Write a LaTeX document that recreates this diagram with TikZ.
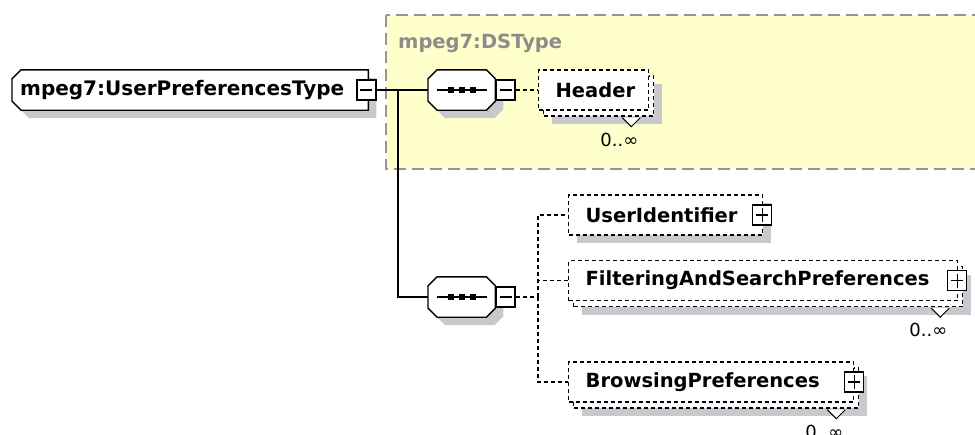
\documentclass[tikz,border=0pt]{standalone}
\usepackage{fontspec}
\setmainfont{DejaVu Sans}
\usetikzlibrary{shadows,calc,backgrounds}

\definecolor{grpfill}{RGB}{255,255,204}
\definecolor{grpline}{RGB}{150,150,150}
\definecolor{grptext}{RGB}{140,140,140}
\definecolor{shgray}{RGB}{200,200,206}

\tikzset{
  namefont/.style={font=\fontsize{19.5pt}{22pt}\selectfont\bfseries},
  conn/.style={line width=1.4pt},
  optconn/.style={line width=1.3pt, dash pattern=on 4pt off 3pt},
  grpbox/.style={fill=grpfill, draw=grpline, line width=1.3pt, dash pattern=on 12pt off 6pt},
  grplabel/.style={namefont, text=grptext, inner sep=0pt},
  typebox/.style={font=\fontsize{20pt}{22pt}\selectfont\bfseries, anchor=west, minimum width=356pt, minimum height=40pt,
    inner xsep=8pt, inner ysep=0pt, text width=340pt, align=left},
  seqbox/.style={anchor=west, minimum width=67pt, minimum height=40pt, inner sep=0pt},
  outline/.style={fill=white, draw, line width=1.4pt},
  shade8/.style={fill=shgray, transform canvas={xshift=8pt, yshift=-8pt}},
  minusbox/.style={draw, line width=1.3pt, fill=white, minimum width=19pt, minimum height=20pt, inner sep=0pt,
    path picture={
      \draw[line width=1.3pt] ([xshift=-6pt]path picture bounding box.center) -- ([xshift=6pt]path picture bounding box.center);
    }},
  plusbox/.style={draw, line width=1.3pt, fill=white, minimum width=19pt, minimum height=20pt, inner sep=0pt,
    path picture={
      \draw[line width=1.3pt] ([xshift=-6pt]path picture bounding box.center) -- ([xshift=6pt]path picture bounding box.center);
      \draw[line width=1.3pt] ([yshift=-7pt]path picture bounding box.center) -- ([yshift=7pt]path picture bounding box.center);
    }},
  elembase/.style={draw, line width=1.3pt, dash pattern=on 4pt off 3pt, fill=white, anchor=west,
    minimum height=40pt, inner xsep=17pt, inner ysep=0pt, align=left, namefont},
  onebox/.style={elembase,
    drop shadow={shadow xshift=8pt, shadow yshift=-8pt, fill=shgray, opacity=1, draw=none}},
  repbox/.style={elembase,
    drop shadow={shadow xshift=13pt, shadow yshift=-14pt, fill=shgray, opacity=1, draw=none},
    copy shadow={shadow xshift=5pt, shadow yshift=-6pt, fill=white, draw=black, opacity=1}},
  occ/.style={font=\fontsize{18pt}{20pt}\selectfont, inner sep=0pt},
}

\begin{document}
\begin{tikzpicture}[x=1pt,y=-1pt]
  \useasboundingbox (0,0) rectangle (975,434);
  % group mpeg7:DSType
  \begin{scope}[on background layer]
    \draw[grpbox] (386,15) rectangle (990,169);
  \end{scope}
  \node[grplabel, anchor=west] (dstype) at (398,43) {mpeg7:DSType};
  % type
  \node[typebox] (upt) at (12,90) {mpeg7:UserPreferencesType};
  \node[minusbox] (uptminus) at ([xshift=-2pt]upt.east) {};
  % sequences
  \node[seqbox] (seqA) at (428,90) {};
  \node[minusbox, anchor=west] (seqAminus) at (seqA.east) {};
  \node[seqbox] (seqB) at (428,297) {};
  \node[minusbox, anchor=west] (seqBminus) at (seqB.east) {};
  % outlines
  \begin{scope}[on background layer]
    \fill[shade8] ($(upt.north west)+(9,0)$) -- (upt.north east) -- (upt.south east)
      -- ($(upt.south west)+(9,0)$) -- ($(upt.south west)+(0,-9)$) -- ($(upt.north west)+(0,9)$) -- cycle;
    \path[outline] ($(upt.north west)+(9,0)$) -- (upt.north east) -- (upt.south east)
      -- ($(upt.south west)+(9,0)$) -- ($(upt.south west)+(0,-9)$) -- ($(upt.north west)+(0,9)$) -- cycle;
    \foreach \s in {seqA,seqB} {
      \fill[shade8] ($(\s.north west)+(9,0)$) -- ($(\s.north east)+(-9,0)$) -- ($(\s.north east)+(0,9)$)
        -- ($(\s.south east)+(0,-9)$) -- ($(\s.south east)+(-9,0)$) -- ($(\s.south west)+(9,0)$)
        -- ($(\s.south west)+(0,-9)$) -- ($(\s.north west)+(0,9)$) -- cycle;
      \path[outline] ($(\s.north west)+(9,0)$) -- ($(\s.north east)+(-9,0)$) -- ($(\s.north east)+(0,9)$)
        -- ($(\s.south east)+(0,-9)$) -- ($(\s.south east)+(-9,0)$) -- ($(\s.south west)+(9,0)$)
        -- ($(\s.south west)+(0,-9)$) -- ($(\s.north west)+(0,9)$) -- cycle;
      \draw[line width=1.3pt] ([xshift=-25pt]\s.center) -- ([xshift=25pt]\s.center);
      \foreach \dx in {-11,0,11}
        \fill ([shift={(\dx-3,-3)}]\s.center) rectangle +(6,6);
    }
  \end{scope}
  % elements
  \node[repbox, text width=76pt] (hdr) at (538,90) {Header};
  \node[onebox, text width=160pt] (uid) at (568,215) {UserIdentifier};
  \node[repbox, text width=355pt] (fsp) at (568,280.5) {FilteringAndSearchPreferences};
  \node[repbox, text width=251pt] (brw) at (568,382) {BrowsingPreferences};
  \node[plusbox] (uidplus) at ([xshift=-1pt]uid.east) {};
  \node[plusbox] (fspplus) at ([xshift=-1pt]fsp.east) {};
  \node[plusbox] (brwplus) at (brw.east) {};
  % occurrences
  \foreach \n in {hdr,fsp,brw} {
    \filldraw[fill=white, line width=1pt] ($(\n.south east)+(-27,7)$) -- ($(\n.south east)+(-18,16)$) -- ($(\n.south east)+(-9,7)$);
    \node[occ] (\n occ) at ($(\n.south east)+(-30,29)$) {0..∞};
  }
  % connectors
  \coordinate (trunk) at (398,90);
  \coordinate (fork) at (538,297);
  \draw[conn] (uptminus.east) -- (seqA.west);
  \draw[conn] (trunk) |- (seqB.west);
  \draw[optconn] (seqAminus.east) -- (hdr.west);
  \draw[optconn] (seqBminus.east) -- (fork);
  \draw[optconn] (fork) |- (uid.west);
  \draw[optconn] (fork) |- (fsp.west);
  \draw[optconn] (fork) |- (brw.west);
\end{tikzpicture}
\end{document}
